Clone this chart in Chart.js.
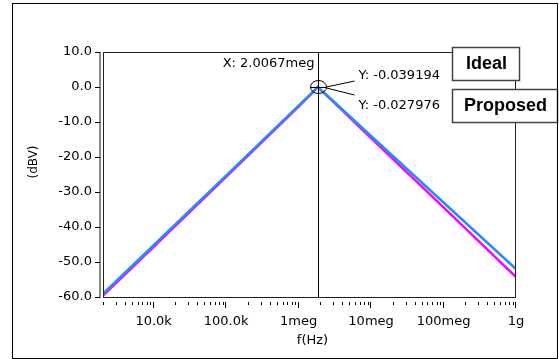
<!DOCTYPE html>
<html>
<head>
<meta charset="utf-8">
<script src="https://cdn.jsdelivr.net/npm/chart.js@4/dist/chart.umd.min.js"></script>
<style>
  html, body { margin: 0; padding: 0; background: #fff; }
  canvas { display: block; }
</style>
</head>
<body>
<canvas id="bodeChart" width="559" height="359"></canvas>
<script>
// frequency points (Hz) and magnitude (dBV)
const freqs = [2e3, 1e4, 1e5, 1e6, 1.5e6, 1.7e6, 1.84e6, 2e6, 3e6, 1e7, 1e8, 1e9];
const idealDb = [-59.1, -45.2, -25.3, -5.3, -1.8, -0.7, -0.04, -0.7, -4.0, -14.0, -33.0, -52.0];
const proposedDb = [-59.6, -45.7, -25.7, -5.6, -2.0, -0.75, -0.03, -0.75, -4.2, -14.6, -34.4, -54.3];

const yTicks = [-60, -50, -40, -30, -20, -10, 0, 10];
const xTicks = [1e4, 1e5, 1e6, 1e7, 1e8, 1e9];
const xTickLabels = ["10.0k", "100.0k", "1meg", "10meg", "100meg", "1g"];

// cursor sits on the drawn peak
const cursorFreq = 1.84e6;
const cursorDb = 0;
const cursorText = "X: 2.0067meg";
const markerTexts = ["Y: -0.039194", "Y: -0.027976"];
const legendNames = ["Ideal", "Proposed"];

const tickFont = { family: "DejaVu Sans", size: 13 };

// frame, axis ticks, cursor and the two name boxes
const decorations = {
  id: "decorations",
  beforeDraw(chart) {
    const ctx = chart.ctx;
    ctx.save();
    ctx.fillStyle = "#fff";
    ctx.fillRect(0, 0, chart.width, chart.height);
    ctx.restore();
  },
  afterDraw(chart) {
    const ctx = chart.ctx;
    const area = chart.chartArea;
    const xs = chart.scales.x;
    const ys = chart.scales.y;
    ctx.save();

    // plot frame
    ctx.strokeStyle = "#222";
    ctx.lineWidth = 1;
    ctx.strokeRect(area.left + 0.5, area.top + 0.5, area.right - area.left - 1, area.bottom - area.top);

    // detached y axis line + ticks
    ctx.strokeStyle = "#888";
    ctx.lineWidth = 2;
    ctx.beginPath();
    ctx.moveTo(area.left - 3, area.top);
    ctx.lineTo(area.left - 3, area.bottom + 1);
    ctx.stroke();
    ctx.strokeStyle = "#000";
    ctx.lineWidth = 1;
    ctx.beginPath();
    yTicks.forEach((v) => {
      const y = Math.round(ys.getPixelForValue(v)) + 0.5;
      ctx.moveTo(area.left - 8, y);
      ctx.lineTo(area.left - 3, y);
    });
    ctx.stroke();

    // x ticks hanging below the frame
    const tickTop = area.bottom + 5;
    ctx.beginPath();
    for (let dec = 1e3; dec < 1e9; dec *= 10) {
      for (let m = 2; m <= 9; m++) {
        const f = dec * m;
        if (f < xs.min) continue;
        const x = Math.round(xs.getPixelForValue(f)) + 0.5;
        ctx.moveTo(x, tickTop);
        ctx.lineTo(x, tickTop + 3);
      }
    }
    xTicks.forEach((v) => {
      const x = Math.round(xs.getPixelForValue(v)) - 0.5;
      ctx.moveTo(x, tickTop);
      ctx.lineTo(x, tickTop + 6);
    });
    ctx.stroke();

    // cursor
    const cx = Math.round(xs.getPixelForValue(cursorFreq)) + 0.5;
    const cy = ys.getPixelForValue(cursorDb);
    ctx.beginPath();
    ctx.moveTo(cx, area.top);
    ctx.lineTo(cx, area.bottom);
    ctx.stroke();
    ctx.beginPath();
    ctx.ellipse(cx, cy, 8, 6.5, 0, 0, Math.PI * 2);
    ctx.stroke();
    ctx.beginPath();
    ctx.moveTo(cx - 8, Math.round(cy) + 0.5);
    ctx.lineTo(cx + 8, Math.round(cy) + 0.5);
    ctx.moveTo(cx + 8, cy);
    ctx.lineTo(cx + 36, cy - 6);
    ctx.moveTo(cx + 8, cy + 1);
    ctx.lineTo(cx + 36, cy + 8);
    ctx.stroke();

    ctx.fillStyle = "#000";
    ctx.font = "13px 'DejaVu Sans'";
    ctx.textBaseline = "middle";
    ctx.textAlign = "right";
    ctx.fillText(cursorText, cx - 4, area.top + 12);
    ctx.textAlign = "left";
    ctx.fillText(markerTexts[0], cx + 40, cy - 11);
    ctx.fillText(markerTexts[1], cx + 40, cy + 19);

    // axis titles
    ctx.textAlign = "center";
    ctx.fillText("f(Hz)", (area.left + area.right) / 2 + 3, 341);
    ctx.save();
    ctx.translate(34, 162);
    ctx.rotate(-Math.PI / 2);
    ctx.font = "12px 'DejaVu Sans'";
    ctx.fillText("(dBV)", 0, 0);
    ctx.restore();

    // name boxes
    const boxes = [
      { x: 452, y: 47, w: 67, h: 33 },
      { x: 452, y: 89, w: 105, h: 33 },
    ];
    ctx.font = "bold 18px 'Liberation Sans'";
    boxes.forEach((b, i) => {
      ctx.fillStyle = "#fff";
      ctx.fillRect(b.x, b.y, b.w, b.h);
      ctx.strokeStyle = "#444";
      ctx.lineWidth = 1.5;
      ctx.strokeRect(b.x + 0.5, b.y + 0.5, b.w, b.h);
      ctx.fillStyle = "#000";
      ctx.fillText(legendNames[i], b.x + b.w / 2 + 1, b.y + b.h / 2 + 1);
    });

    // outer frame
    ctx.strokeStyle = "#000";
    ctx.lineWidth = 1;
    ctx.strokeRect(12.5, 3.5, 545, 355);
    ctx.restore();
  },
};

new Chart(document.getElementById("bodeChart"), {
  type: "line",
  data: {
    datasets: [
      {
        label: legendNames[0],
        data: freqs.map((f, i) => ({ x: f, y: idealDb[i] })),
        borderColor: "#1e8fff",
        borderWidth: 2.5,
        pointRadius: 0,
        tension: 0,
      },
      {
        label: legendNames[1],
        data: freqs.map((f, i) => ({ x: f, y: proposedDb[i] })),
        borderColor: "#ff00ff",
        borderWidth: 2.5,
        pointRadius: 0,
        tension: 0,
      },
    ],
  },
  options: {
    responsive: false,
    animation: false,
    layout: { padding: { top: 52, right: 43, left: 0, bottom: 0 } },
    plugins: { legend: { display: false }, tooltip: { enabled: false } },
    scales: {
      x: {
        type: "logarithmic",
        min: 2000,
        max: 1e9,
        afterBuildTicks: (s) => {
          s.ticks = xTicks.map((v) => ({ value: v }));
        },
        afterFit: (s) => {
          s.height = 62;
        },
        ticks: {
          autoSkip: false,
          maxRotation: 0,
          padding: 17,
          color: "#000",
          font: tickFont,
          callback: (v, i) => xTickLabels[i],
        },
        grid: { display: false, drawTicks: false },
        border: { display: false },
      },
      y: {
        min: -60,
        max: 10,
        afterBuildTicks: (s) => {
          s.ticks = yTicks.map((v) => ({ value: v }));
        },
        afterFit: (s) => {
          s.width = 103;
        },
        ticks: {
          padding: 11,
          color: "#000",
          font: tickFont,
          callback: (v) => v.toFixed(1),
        },
        grid: { display: false, drawTicks: false },
        border: { display: false },
      },
    },
  },
  plugins: [decorations],
});
</script>
</body>
</html>
